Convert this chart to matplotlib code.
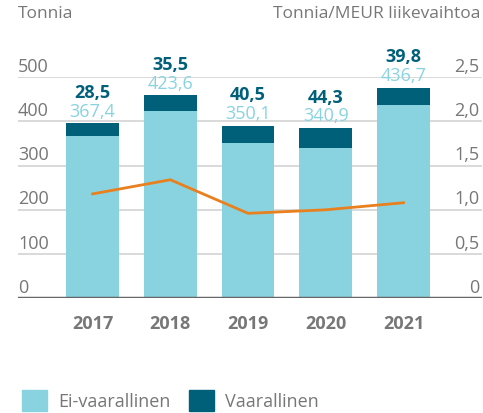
import numpy as np
import matplotlib.pyplot as plt
from matplotlib.patches import Patch

years = ['2017', '2018', '2019', '2020', '2021']
ei_vaarallinen = [367.4, 423.6, 350.1, 340.9, 436.7]
vaarallinen = [28.5, 35.5, 40.5, 44.3, 39.8]
per_meur = [1.18, 1.34, 0.96, 1.00, 1.08]
left_ticks = [0, 100, 200, 300, 400, 500]
right_ticks = ['0', '0,5', '1,0', '1,5', '2,0', '2,5']

light = '#89d3e1'
dark = '#00607a'
orange = '#e8801e'
grey = '#777777'

plt.rcParams['font.family'] = ['Open Sans', 'DejaVu Sans']

fig = plt.figure(figsize=(4.83, 4.13), dpi=100)
ax = fig.add_axes([18/483, 0.278, 464/483, 0.535])
x = np.arange(len(years))

ax.bar(x, ei_vaarallinen, width=0.68, color=light, zorder=2)
ax.bar(x, vaarallinen, width=0.68, bottom=ei_vaarallinen, color=dark, zorder=2)

for xi, a, b in zip(x, ei_vaarallinen, vaarallinen):
    top = a + b
    ax.text(xi, top + 6, f'{a:.1f}'.replace('.', ','), ha='center', va='bottom',
            color=light, fontsize=13, clip_on=False)
    ax.text(xi, top + 48, f'{b:.1f}'.replace('.', ','), ha='center', va='bottom',
            color=dark, fontsize=13, fontweight='bold', clip_on=False)

ax.set_xlim(-0.96, 5.01)
ax.set_ylim(0, 500)
for t in left_ticks[1:]:
    ax.axhline(t, color='#d3d3d3', lw=1.2, zorder=1)
ax.axhline(0, color='#666666', lw=2.5, zorder=3)

# tick labels sit inside, above the gridlines
for t, r in zip(left_ticks, right_ticks):
    ax.text(0.0, t + 3, str(t), transform=ax.get_yaxis_transform(), ha='left',
            va='bottom', color=grey, fontsize=13)
    ax.text(0.995, t + 3, r, transform=ax.get_yaxis_transform(), ha='right',
            va='bottom', color=grey, fontsize=13)

ax2 = ax.twinx()
ax2.set_ylim(0, 2.5)
ax2.plot(x, per_meur, color=orange, lw=2, zorder=4)

for a in (ax, ax2):
    a.set_yticks([])
    for s in a.spines.values():
        s.set_visible(False)
ax.set_xticks(x)
ax.set_xticklabels(years, fontsize=13, fontweight='bold', color=grey)
ax.tick_params(axis='x', length=0, pad=12)

fig.text(18/483, 1 - 14/413, 'Tonnia', ha='left', va='center', color=grey, fontsize=12.5)
fig.text(480/483, 1 - 14/413, 'Tonnia/MEUR liikevaihtoa', ha='right', va='center',
         color=grey, fontsize=12.5)

handles = [Patch(color=light, label='Ei-vaarallinen'), Patch(color=dark, label='Vaarallinen')]
leg = fig.legend(handles=handles, loc='lower left', bbox_to_anchor=(0.012, -0.035), ncol=2,
                 frameon=False, fontsize=13, handlelength=1.4, handleheight=1.4,
                 handletextpad=0.6, columnspacing=1.0)
for t in leg.get_texts():
    t.set_color(grey)

fig.savefig('out.png', dpi=100)
